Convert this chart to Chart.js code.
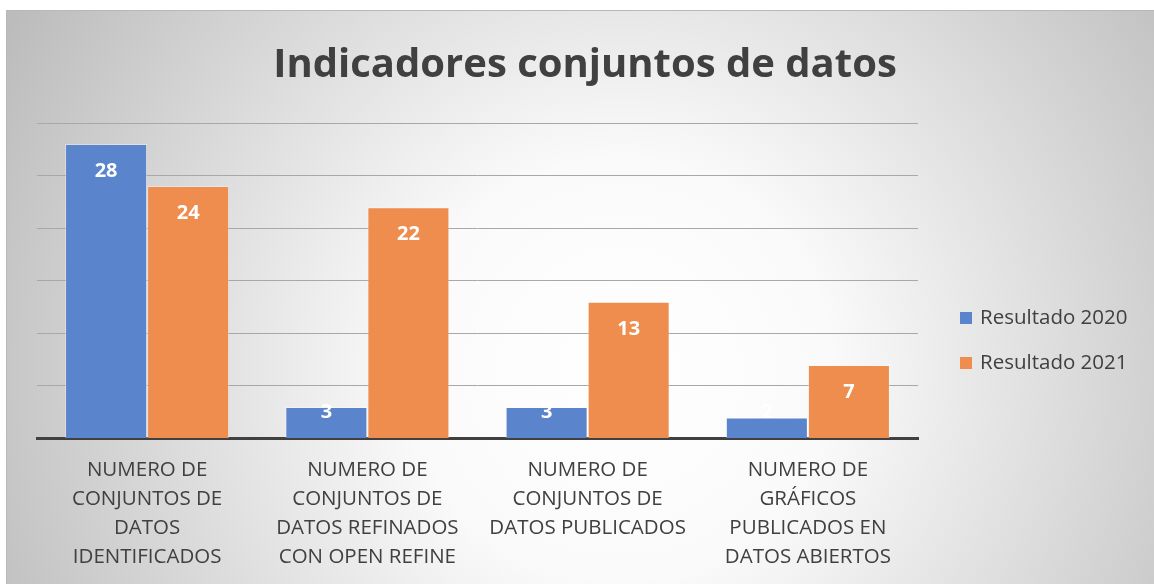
<!DOCTYPE html>
<html><head><meta charset="utf-8">
<script src="https://cdn.jsdelivr.net/npm/chart.js@4/dist/chart.umd.min.js"></script>
<style>html,body{margin:0;padding:0;background:#fff;overflow:hidden}</style>
</head><body>
<canvas id="c" width="1154" height="584" style="display:block;width:1154px;height:584px"></canvas>
<script>
const categories = [
  ["NUMERO DE","CONJUNTOS DE","DATOS","IDENTIFICADOS"],
  ["NUMERO DE","CONJUNTOS DE","DATOS REFINADOS","CON OPEN REFINE"],
  ["NUMERO DE","CONJUNTOS DE","DATOS PUBLICADOS"],
  ["NUMERO DE","GRÁFICOS","PUBLICADOS EN","DATOS ABIERTOS"]
];
const seriesNames = ["Resultado 2020","Resultado 2021"];
const values2020 = [28, 3, 3, 2];
const values2021 = [24, 22, 13, 7];
const yTicks = [0, 5, 10, 15, 20, 25, 30];
const titleText = "Indicadores conjuntos de datos";

const TEXT = '#404040';
const FONT = '"Open Sans", "DejaVu Sans", sans-serif';

const bgPlugin = {
  id: 'bg',
  beforeDraw(ch) {
    const c = ch.ctx;
    c.save();
    c.fillStyle = '#ffffff';
    c.fillRect(0, 0, ch.width, ch.height);
    const g = c.createRadialGradient(620, 370, 0, 620, 370, 700);
    g.addColorStop(0, '#ffffff');
    g.addColorStop(0.3, '#fafafa');
    g.addColorStop(1, '#bcbcbc');
    c.fillStyle = g;
    c.fillRect(6, 10, ch.width - 6, ch.height - 10);
    c.strokeStyle = '#b8b8b8';
    c.lineWidth = 1;
    c.beginPath();
    c.moveTo(6, 10.5); c.lineTo(ch.width, 10.5);
    c.moveTo(6.5, 10); c.lineTo(6.5, ch.height);
    c.stroke();
    // title
    c.font = 'bold 40px ' + FONT;
    c.fillStyle = TEXT;
    c.textAlign = 'center';
    c.textBaseline = 'alphabetic';
    c.fillText(titleText, 585, 77);
    c.restore();
  }
};

const labelPlugin = {
  id: 'barLabels',
  afterDatasetsDraw(ch) {
    const c = ch.ctx;
    const base = ch.scales.y.getPixelForValue(0);
    c.save();
    c.font = 'bold 20px ' + FONT;
    c.fillStyle = '#ffffff';
    c.textAlign = 'center';
    c.textBaseline = 'middle';
    ch.data.datasets.forEach((ds, i) => {
      ch.getDatasetMeta(i).data.forEach((bar, j) => {
        const y = Math.min(bar.y + 27, base - 26);
        c.fillText(String(ds.data[j]), bar.x, y);
      });
    });
    c.restore();
  }
};

const legendPlugin = {
  id: 'sideLegend',
  afterDraw(ch) {
    const c = ch.ctx;
    c.save();
    c.font = '20.5px ' + FONT;
    c.textAlign = 'left';
    c.textBaseline = 'middle';
    ch.data.datasets.forEach((ds, i) => {
      const cy = 318 + i * 45;
      c.fillStyle = ds.backgroundColor;
      c.fillRect(960, cy - 6, 12, 12);
      c.fillStyle = TEXT;
      c.fillText(ds.label, 980, cy);
    });
    c.restore();
  }
};

new Chart(document.getElementById('c'), {
  type: 'bar',
  data: {
    labels: categories,
    datasets: [
      { label: seriesNames[0], data: values2020, backgroundColor: '#5a84cb', borderColor: 'rgba(255,255,255,0.35)', borderWidth: 1 },
      { label: seriesNames[1], data: values2021, backgroundColor: '#ee8d4e', borderColor: 'rgba(255,255,255,0.35)', borderWidth: 1 }
    ]
  },
  options: {
    responsive: false,
    animation: false,
    layout: { padding: { left: 37, right: 236, top: 123, bottom: 3 } },
    datasets: { bar: { categoryPercentage: 0.745, barPercentage: 1.0 } },
    plugins: {
      legend: { display: false },
      tooltip: { enabled: false },
      title: { display: false }
    },
    scales: {
      x: {
        grid: { display: false },
        border: { display: true, color: '#404040', width: 3 },
        ticks: { color: TEXT, font: { family: FONT, size: 20.5, lineHeight: 1.42 }, padding: 9, maxRotation: 0, autoSkip: false }
      },
      y: {
        min: yTicks[0],
        max: yTicks[yTicks.length - 1],
        afterBuildTicks(s) { s.ticks = yTicks.map(v => ({ value: v })); },
        grid: { color: '#a8a8a8', lineWidth: 1, drawTicks: false },
        border: { display: false },
        ticks: { display: false }
      }
    }
  },
  plugins: [bgPlugin, labelPlugin, legendPlugin]
});
</script>
</body></html>
